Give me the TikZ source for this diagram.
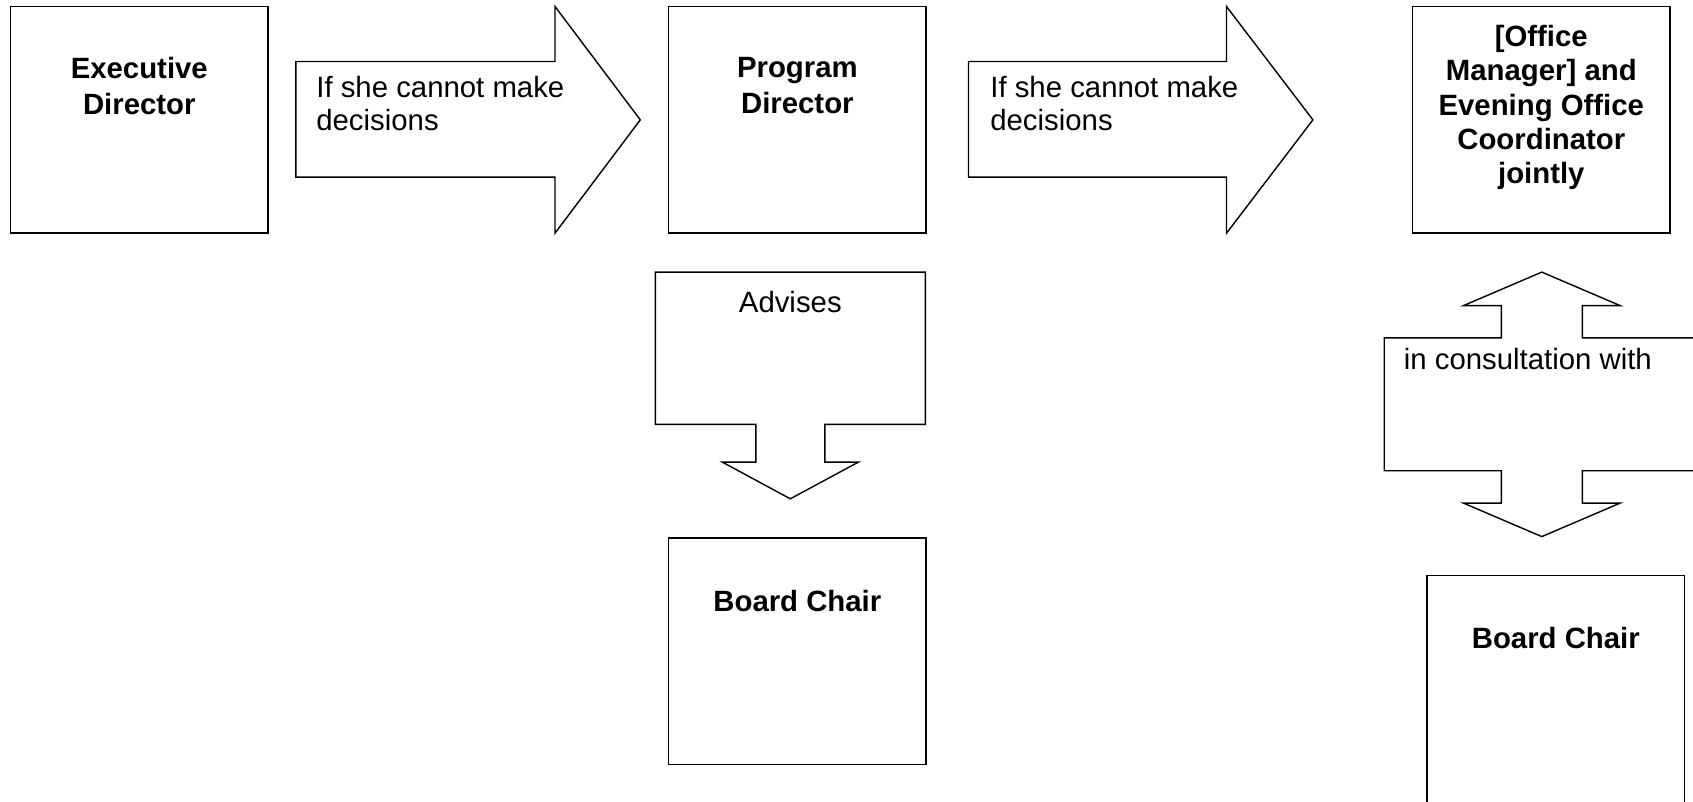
\documentclass[tikz,border=0pt]{standalone}
\usepackage{fontspec}
\setmainfont{Liberation Sans}
\usetikzlibrary{positioning,calc}

\begin{document}
\begin{tikzpicture}[
    font=\fontsize{16.7}{20}\selectfont,
    x=1cm, y=1cm,
    role/.style={
        draw=black,
        line width=0.8pt,
        fill=white,
        minimum width=5.15cm,
        minimum height=4.53cm,
        inner sep=0pt
    },
    rolename/.style={
        font=\fontsize{16.7}{20.3}\selectfont\bfseries,
        align=center,
        inner sep=0pt
    },
    blockarrow/.style={
        draw=black,
        line width=0.8pt,
        line join=miter,
        fill=white
    },
    arrowtext/.style={
        font=\fontsize{16.7}{19}\selectfont,
        align=left,
        anchor=north west,
        inner sep=0pt
    }
]

% ---------------------------------------------------------
% Canvas
% ---------------------------------------------------------
\path[use as bounding box] (0,0) rectangle (33.86,-16.02);
\clip (0,0) rectangle (33.86,-16.02);

% ---------------------------------------------------------
% Top row: chain of decision makers
% ---------------------------------------------------------
\node[role] (execdir) at (2.786,-2.397) {};
\node[rolename, below=1.02cm of execdir.north] (execdirname)
    {Executive\\Director};

\node[role] (progdir) at (15.947,-2.397) {};
\node[rolename, below=1.02cm of progdir.north] (progdirname)
    {Program\\Director};

\node[role] (officecoord) at (30.826,-2.397) {};
\node[rolename, font=\fontsize{16.7}{19.5}\selectfont\bfseries,
    below=0.38cm of officecoord.north] (officecoordname)
    {[Office\\Manager] and\\Evening Office\\Coordinator\\jointly};

% block arrows between the boxes
\draw[blockarrow] (5.916,-1.23) -- (11.1,-1.23) -- (11.1,-0.13)
    -- (12.806,-2.397) -- (11.1,-4.664) -- (11.1,-3.542)
    -- (5.916,-3.542) -- cycle;
\node[arrowtext] (ifnotA) at (6.32,-1.518)
    {If she cannot make\\decisions};

\draw[blockarrow] (19.37,-1.23) -- (24.53,-1.23) -- (24.53,-0.13)
    -- (26.258,-2.397) -- (24.53,-4.664) -- (24.53,-3.542)
    -- (19.37,-3.542) -- cycle;
\node[arrowtext] (ifnotB) at (19.8,-1.518)
    {If she cannot make\\decisions};

% ---------------------------------------------------------
% Program Director advised by Board Chair
% ---------------------------------------------------------
\draw[blockarrow] (13.108,-5.442) -- (18.506,-5.442) -- (18.506,-8.486)
    -- (16.498,-8.486) -- (16.498,-9.242) -- (17.168,-9.242)
    -- (15.806,-9.976) -- (14.446,-9.242) -- (15.116,-9.242)
    -- (15.116,-8.486) -- (13.108,-8.486) -- cycle;
\node[anchor=north, inner sep=0pt] (advises) at (15.806,-5.814) {Advises};

\node[role] (chairA) at (15.947,-13.021) {};
\node[rolename, below=1.06cm of chairA.north] (chairAname) {Board Chair};

% ---------------------------------------------------------
% Joint coordinators in consultation with Board Chair
% ---------------------------------------------------------
\draw[blockarrow] (30.836,-5.442) -- (32.402,-6.112) -- (31.646,-6.112)
    -- (31.646,-6.758) -- (33.988,-6.758) -- (33.988,-9.414)
    -- (31.646,-9.414) -- (31.646,-10.062) -- (32.402,-10.062)
    -- (30.836,-10.732) -- (29.27,-10.062) -- (30.026,-10.062)
    -- (30.026,-9.414) -- (27.684,-9.414) -- (27.684,-6.758)
    -- (30.026,-6.758) -- (30.026,-6.112) -- (29.27,-6.112) -- cycle;
\node[arrowtext] (consult) at (28.07,-6.96) {in consultation with};

% this one runs off the bottom of the page
\node[role, minimum height=4.9cm] (chairB) at (31.116,-13.96) {};
\node[rolename, below=1.04cm of chairB.north] (chairBname) {Board Chair};

\end{tikzpicture}
\end{document}
